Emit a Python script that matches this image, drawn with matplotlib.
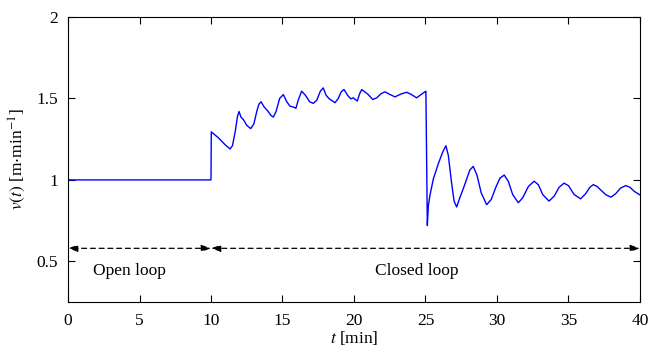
import matplotlib
matplotlib.use("Agg")
import matplotlib.pyplot as plt

# velocity
t = [0.0, 10.0, 10.02, 10.5, 11.0, 11.33, 11.5, 11.7, 11.85, 11.96, 12.1, 12.27,
     12.5, 12.78, 13.0, 13.2, 13.35, 13.5, 13.7, 14.0, 14.2, 14.36, 14.55, 14.8,
     15.06, 15.3, 15.52, 15.75, 15.94, 16.1, 16.34, 16.6, 16.9, 17.15, 17.4, 17.65,
     17.85, 18.05, 18.27, 18.67, 18.9, 19.1, 19.3, 19.55, 19.77, 19.95, 20.23, 20.4,
     20.54, 21.0, 21.31, 21.59, 21.9, 22.17, 22.5, 22.87, 23.3, 23.69, 24.0, 24.38,
     24.7, 24.97, 25.03, 25.13, 25.2, 25.31, 25.55, 25.9, 26.2, 26.43, 26.6, 26.8,
     27.0, 27.18, 27.4, 27.64, 27.9, 28.1, 28.34, 28.6, 28.9, 29.28, 29.6, 29.9,
     30.2, 30.51, 30.8, 31.1, 31.49, 31.8, 32.2, 32.6, 32.9, 33.2, 33.64, 34.0,
     34.35, 34.69, 35.0, 35.4, 35.85, 36.2, 36.5, 36.74, 37.0, 37.3, 37.6, 37.97,
     38.3, 38.65, 39.0, 39.3, 39.6, 40.0]
v = [1.0, 1.0, 1.295, 1.26, 1.215, 1.19, 1.21, 1.30, 1.39, 1.42, 1.385, 1.37,
     1.335, 1.315, 1.345, 1.42, 1.465, 1.48, 1.45, 1.42, 1.395, 1.386, 1.42, 1.50,
     1.524, 1.48, 1.453, 1.448, 1.44, 1.49, 1.545, 1.52, 1.48, 1.47, 1.49, 1.545,
     1.565, 1.52, 1.498, 1.474, 1.50, 1.54, 1.555, 1.52, 1.498, 1.504, 1.484, 1.53,
     1.555, 1.524, 1.494, 1.504, 1.53, 1.541, 1.525, 1.51, 1.528, 1.538, 1.525, 1.504,
     1.525, 1.541, 1.545, 0.72, 0.84, 0.904, 1.006, 1.10, 1.17, 1.21, 1.15, 1.0,
     0.87, 0.834, 0.89, 0.945, 1.01, 1.06, 1.083, 1.03, 0.92, 0.848, 0.88, 0.95,
     1.01, 1.03, 0.99, 0.91, 0.86, 0.89, 0.96, 0.992, 0.97, 0.91, 0.87, 0.90,
     0.955, 0.98, 0.965, 0.91, 0.884, 0.915, 0.955, 0.971, 0.96, 0.935, 0.91, 0.894,
     0.915, 0.95, 0.965, 0.955, 0.93, 0.908]

x_ticks = [0, 5, 10, 15, 20, 25, 30, 35, 40]
y_ticks = [0.5, 1, 1.5, 2]
y_ticklabels = ["0.5", "1", "1.5", "2"]
switch_time = 10
phase_labels = ["Open loop", "Closed loop"]

plt.rcParams["font.family"] = ["Liberation Serif", "DejaVu Serif"]
plt.rcParams["mathtext.fontset"] = "stix"
plt.rcParams["font.size"] = 12.5

fig = plt.figure(figsize=(6.51, 3.48), dpi=100)
ax = fig.add_axes([0.1045, 0.132, 0.8785, 0.819])

ax.plot(t, v, color="blue", lw=1.0)

# open / closed loop arrows
arrow_y = 0.58
for a, b in [(0, switch_time), (switch_time, 40)]:
    ax.annotate("", xy=(a, arrow_y), xytext=(b, arrow_y),
                arrowprops=dict(arrowstyle="<|-|>,head_length=0.45,head_width=0.16",
                                color="black", lw=0.9, linestyle=(0, (4, 3)),
                                shrinkA=0, shrinkB=0))
ax.text(4.3, 0.44, phase_labels[0], ha="center", va="center")
ax.text(24.4, 0.44, phase_labels[1], ha="center", va="center")

ax.set_xlim(0, 40)
ax.set_ylim(0.25, 2)
ax.set_xticks(x_ticks)
ax.set_yticks(y_ticks)
ax.set_yticklabels(y_ticklabels)
ax.tick_params(direction="in", top=True, right=True, length=5, width=0.8)
ax.tick_params(axis="x", pad=8)
ax.tick_params(axis="y", pad=7)
for s in ax.spines.values():
    s.set_linewidth(0.8)

ax.set_xlabel(r"$t$ [min]", labelpad=0)
ax.set_ylabel(r"$v(t)$ [m$\cdot$min$^{-1}$]", labelpad=6)

fig.savefig("out.png", dpi=100)
